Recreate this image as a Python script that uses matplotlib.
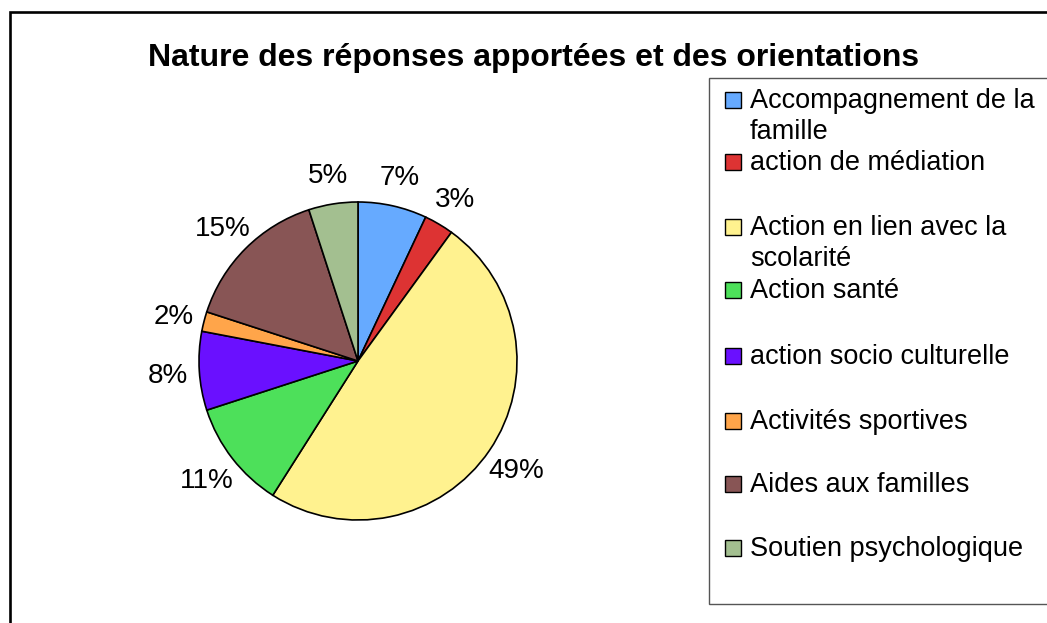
import matplotlib
matplotlib.use("Agg")
import matplotlib.pyplot as plt
from matplotlib.patches import Rectangle

plt.rcParams['font.family'] = ['Liberation Sans', 'DejaVu Sans']

title = "Nature des réponses apportées et des orientations"
categories = ["Accompagnement de la\nfamille", "action de médiation",
              "Action en lien avec la\nscolarité", "Action santé",
              "action socio culturelle", "Activités sportives",
              "Aides aux familles", "Soutien psychologique"]
values = [7, 3, 49, 11, 8, 2, 15, 5]
colors = ["#66AAFF", "#DD3333", "#FFF28F", "#4DE05A",
          "#6A10FF", "#FFA54A", "#885555", "#A3BF90"]

W, H = 1047, 623
fig = plt.figure(figsize=(W / 100, H / 100), dpi=100)
ax = fig.add_axes([0, 0, 1, 1])


def Y(ypx):
    return H - ypx


wedges, texts, autotexts = ax.pie(
    values, colors=colors, startangle=90, counterclock=False,
    center=(358, Y(361)), radius=159,
    autopct=lambda p: f"{p:.0f}%", pctdistance=1.2,
    wedgeprops=dict(edgecolor="black", linewidth=1.2),
    textprops=dict(fontsize=20, color="black"), frame=False)
for t in autotexts:
    t.set_va("center_baseline")
ax.set_xlim(0, W)
ax.set_ylim(0, H)
ax.set_aspect('equal')
ax.axis('off')

# outer chart border (extends past the right and bottom edges)
ax.plot([9.5, 9.5, W + 10], [-10, Y(12), Y(12)], color="black",
        linewidth=1.9, clip_on=False, solid_joinstyle='miter')

# title
ax.text(534, Y(66), title, ha="center", va="baseline", fontsize=23,
        fontweight="bold")

# legend
ax.add_patch(Rectangle((709, Y(604)), 400, 604 - 78, facecolor="white",
                       edgecolor="#555555", linewidth=1.0, clip_on=True))
entry_y = [100, 162, 227, 290, 356, 421, 484, 548]
for lab, col, yc in zip(categories, colors, entry_y):
    ax.add_patch(Rectangle((725, Y(yc + 8)), 16, 16, facecolor=col,
                           edgecolor="black", linewidth=1.0))
    for i, line in enumerate(lab.split("\n")):
        ax.text(750, Y(yc + 8 + 31 * i), line, ha="left", va="baseline",
                fontsize=19.5)

fig.savefig("out.png", dpi=100)
